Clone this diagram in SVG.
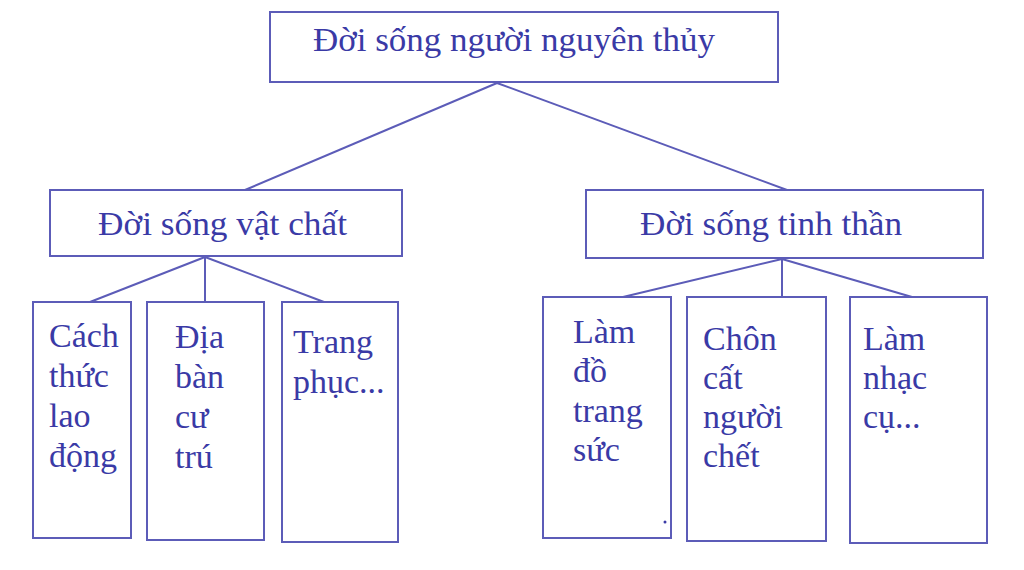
<svg xmlns="http://www.w3.org/2000/svg" width="1024" height="570" viewBox="0 0 1024 570">
<style>
.box{fill:#ffffff;stroke:#5c5cb8;stroke-width:2}
.ln{stroke:#5c5cb8;stroke-width:2;fill:none}
.t{font-family:"Liberation Serif","Times New Roman",serif;font-size:34px;fill:#3a3aa6}
</style>
<rect width="1024" height="570" fill="#ffffff"/>
<g id="connectors">
<line class="ln" x1="497" y1="83" x2="245" y2="190"/>
<line class="ln" x1="497" y1="83" x2="787" y2="190"/>
<line class="ln" x1="205" y1="257" x2="90" y2="302"/>
<line class="ln" x1="205" y1="257" x2="205" y2="302"/>
<line class="ln" x1="205" y1="257" x2="324" y2="302"/>
<line class="ln" x1="782" y1="259" x2="623" y2="297"/>
<line class="ln" x1="782" y1="259" x2="782" y2="297"/>
<line class="ln" x1="782" y1="259" x2="912" y2="297"/>
</g>
<g id="root">
<rect class="box" x="270" y="12" width="508" height="70"/>
<text class="t" x="313" y="51" textLength="402" lengthAdjust="spacingAndGlyphs">Đời sống người nguyên thủy</text>
</g>
<g id="vatchat">
<rect class="box" x="50" y="190" width="352" height="66"/>
<text class="t" x="98" y="235" textLength="249" lengthAdjust="spacingAndGlyphs">Đời sống vật chất</text>
</g>
<g id="tinhthan">
<rect class="box" x="586" y="190" width="397" height="68"/>
<text class="t" x="640" y="235" textLength="262" lengthAdjust="spacingAndGlyphs">Đời sống tinh thần</text>
</g>
<g id="cachthuc">
<rect class="box" x="33" y="302" width="98" height="236"/>
<text class="t" x="49" y="347">Cách</text>
<text class="t" x="49" y="387">thức</text>
<text class="t" x="49" y="427">lao</text>
<text class="t" x="49" y="467">động</text>
</g>
<g id="diaban">
<rect class="box" x="147" y="302" width="117" height="238"/>
<text class="t" x="175" y="348">Địa</text>
<text class="t" x="175" y="388">bàn</text>
<text class="t" x="175" y="428">cư</text>
<text class="t" x="175" y="468">trú</text>
</g>
<g id="trangphuc">
<rect class="box" x="282" y="302" width="116" height="240"/>
<text class="t" x="293" y="353">Trang</text>
<text class="t" x="293" y="393">phục...</text>
</g>
<g id="trangsuc">
<rect class="box" x="543" y="297" width="128" height="241"/>
<text class="t" x="573" y="343">Làm</text>
<text class="t" x="573" y="382">đồ</text>
<text class="t" x="573" y="422">trang</text>
<text class="t" x="573" y="461">sức</text>
<circle cx="665" cy="522" r="1.5" fill="#3a3aa6"/>
</g>
<g id="choncat">
<rect class="box" x="687" y="297" width="139" height="244"/>
<text class="t" x="703" y="350">Chôn</text>
<text class="t" x="703" y="389">cất</text>
<text class="t" x="703" y="428">người</text>
<text class="t" x="703" y="467">chết</text>
</g>
<g id="nhaccu">
<rect class="box" x="850" y="297" width="137" height="246"/>
<text class="t" x="863" y="350">Làm</text>
<text class="t" x="863" y="389">nhạc</text>
<text class="t" x="863" y="428">cụ...</text>
</g>
</svg>
